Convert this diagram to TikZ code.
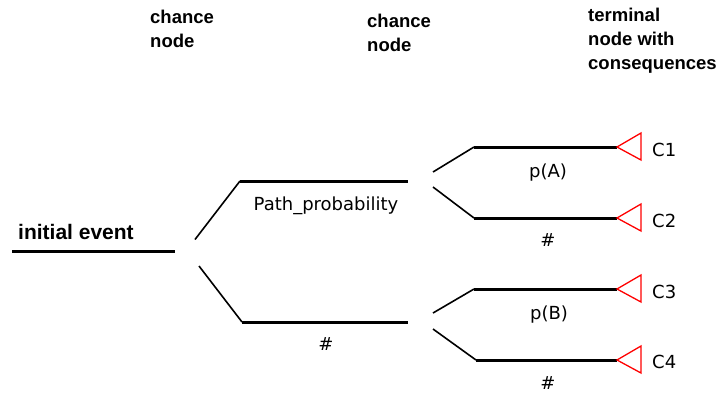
\documentclass[tikz,border=0pt]{standalone}
\usepackage{fontspec}
\setmainfont{DejaVu Sans}
\newfontfamily\headfont{Liberation Sans}
\begin{document}
\begin{tikzpicture}[x=1pt,y=-1pt,
  branch/.style={line width=3pt},
  link/.style={line width=1.6pt},
  term/.style={draw=red, line width=1.3pt, line join=miter},
  head/.style={font=\headfont\bfseries\fontsize{18.5}{24}\selectfont,
               align=left, anchor=north west, inner sep=0pt},
  lbl/.style={font=\fontsize{18}{22}\selectfont, inner sep=0pt}]
\useasboundingbox (0,0) rectangle (720,392);

% column headings
\node[head] (h1) at (150,10) {chance\\node};
\node[head] (h2) at (367,14) {chance\\node};
\node[head] (h3) at (588,8) {terminal\\node with\\consequences};

% initial event
\node[font=\headfont\bfseries\fontsize{21}{24}\selectfont, anchor=base west, inner sep=0pt]
  (ie) at (18,239) {initial event};
\coordinate (ie-a) at (12,251.5);
\coordinate (ie-b) at (175,251.5);
\draw[branch] (ie-a) -- (ie-b);

% first chance node
\coordinate (up-s) at (195,239.5);
\coordinate (up-a) at (240,181);
\coordinate (up-b) at (408,181);
\coordinate (lo-s) at (199,266);
\coordinate (lo-a) at (242,322);
\coordinate (lo-b) at (408,322);
\draw[link] (up-s) -- (up-a);
\draw[branch] (up-a) -- (up-b);
\draw[link] (lo-s) -- (lo-a);
\draw[branch] (lo-a) -- (lo-b);
\node[lbl, anchor=base] (pp) at (326,210) {Path\_probability};
\node[lbl, anchor=base] (n1) at (326,350) {\#};

% second chance nodes
\coordinate (a1s) at (433,172);
\coordinate (a1a) at (474,147);
\coordinate (a1b) at (617,147);
\coordinate (a2s) at (433,187);
\coordinate (a2a) at (474,218);
\coordinate (a2b) at (617,218);
\coordinate (b1s) at (433,313);
\coordinate (b1a) at (474,289);
\coordinate (b1b) at (617,289);
\coordinate (b2s) at (433,329);
\coordinate (b2a) at (476,360);
\coordinate (b2b) at (617,360);
\foreach \p in {a1,a2,b1,b2}{
  \draw[link] (\p s) -- (\p a);
  \draw[branch] (\p a) -- (\p b);
  \draw[term] (\p b) -- ++(24,-14) -- ++(0,27) -- cycle;
}
\node[lbl, anchor=base] (pa) at (548,177) {p(A)};
\node[lbl, anchor=base] (n2) at (548,246) {\#};
\node[lbl, anchor=base] (pb) at (549,319) {p(B)};
\node[lbl, anchor=base] (n3) at (548,389) {\#};

% consequences
\node[lbl, anchor=west] (c1) at (652,149.5) {C1};
\node[lbl, anchor=west] (c2) at (652,220.5) {C2};
\node[lbl, anchor=west] (c3) at (652,291.5) {C3};
\node[lbl, anchor=west] (c4) at (652,362) {C4};
\end{tikzpicture}
\end{document}
